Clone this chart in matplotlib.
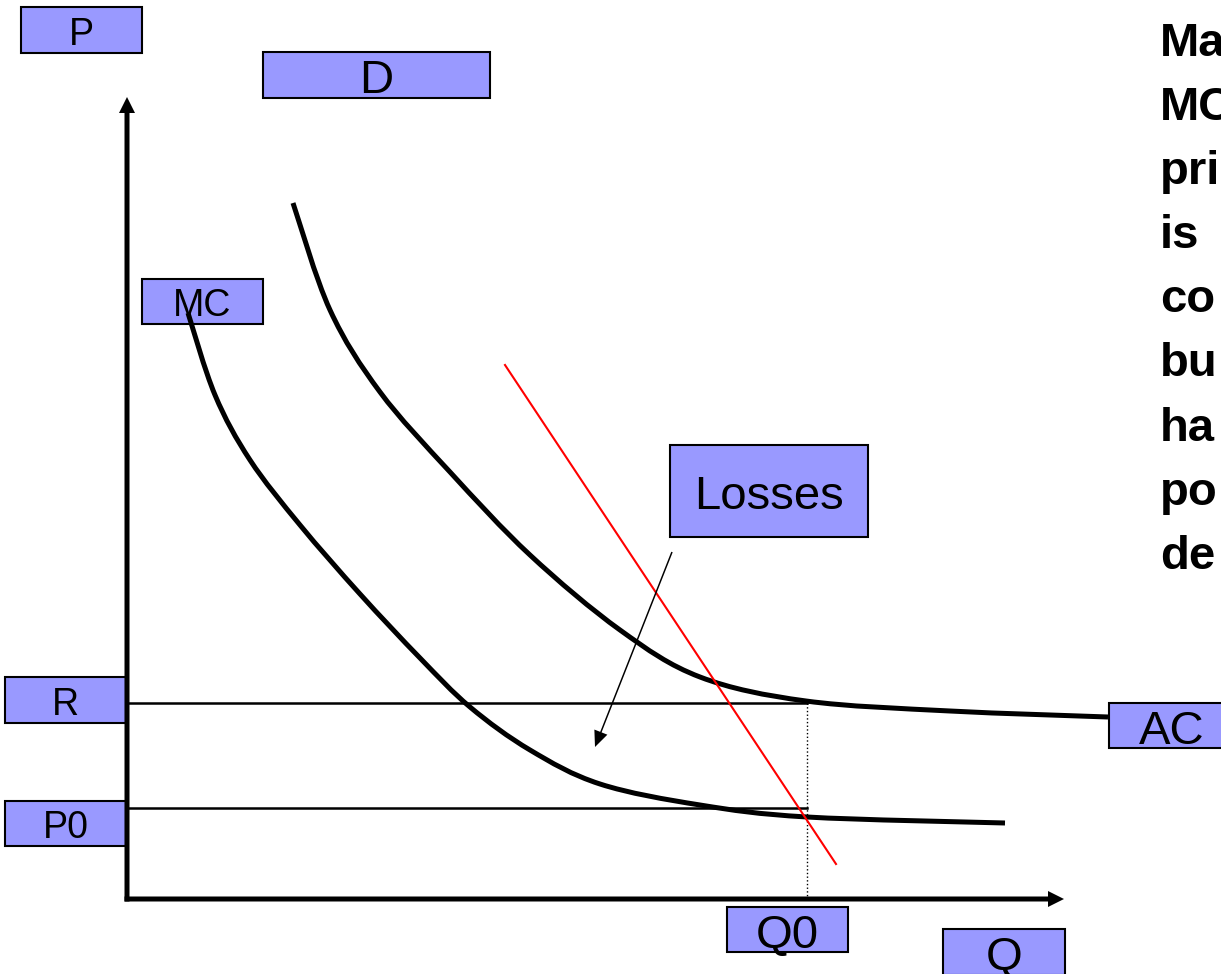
import matplotlib
matplotlib.use('Agg')
from matplotlib import pyplot as plt
from matplotlib.patches import Rectangle, PathPatch
from matplotlib.path import Path

plt.rcParams['font.family'] = ['Liberation Sans', 'DejaVu Sans']

# curves, in pixel coordinates (y grows downward)
ac_x = [293, 330, 380, 450, 530, 620, 700, 806, 950, 1108]
ac_y = [203, 310, 392, 472, 555, 630, 677, 701, 711, 717]
mc_x = [188, 215, 250, 300, 360, 420, 470, 530, 600, 700, 807, 1005]
mc_y = [313, 395, 460, 525, 594, 658, 707, 750, 784, 805, 817, 823]
red_x = [505, 836]
red_y = [365, 864]

# price levels and output
R = 703
P0 = 808
Q0 = 807
origin = (127, 899)

# labelled boxes: text, left, top, right, bottom, font size
boxes = [
    ('P', 21, 7, 142, 53, 27),
    ('D', 263, 52, 490, 98, 34),
    ('MC', 142, 279, 263, 324, 27),
    ('Losses', 670, 445, 868, 537, 34),
    ('R', 5, 677, 126, 723, 27),
    ('P0', 5, 801, 126, 846, 27),
    ('AC', 1109, 703, 1235, 748, 34),
    ('Q0', 727, 907, 848, 952, 34),
    ('Q', 943, 929, 1065, 975, 34),
]

# text on the right, cut off by the slide edge
side_text = ['Ma', 'MC', 'pri', 'is', 'co', 'bu', 'ha', 'po', 'de']


def smooth_path(xs, ys):
    # bezier segments through the traced points (catmull-rom style handles)
    pts = list(zip(xs, ys))
    verts = [pts[0]]
    codes = [Path.MOVETO]
    for i in range(len(pts) - 1):
        p0 = pts[i - 1] if i > 0 else pts[i]
        p1 = pts[i]
        p2 = pts[i + 1]
        p3 = pts[i + 2] if i + 2 < len(pts) else pts[i + 1]
        c1 = (p1[0] + (p2[0] - p0[0]) / 6, p1[1] + (p2[1] - p0[1]) / 6)
        c2 = (p2[0] - (p3[0] - p1[0]) / 6, p2[1] - (p3[1] - p1[1]) / 6)
        verts += [c1, c2, p2]
        codes += [Path.CURVE4] * 3
    return Path(verts, codes)


fig = plt.figure(figsize=(12.21, 9.74), dpi=100)
ax = fig.add_axes([0, 0, 1, 1])
ax.set_xlim(0, 1221)
ax.set_ylim(974, 0)
ax.axis('off')

# boxes go underneath the lines
for label, x0, y0, x1, y1, fs in boxes:
    ax.add_patch(Rectangle((x0, y0), x1 - x0, y1 - y0, facecolor='#9999ff',
                           edgecolor='black', lw=1.5, zorder=1))
    em = fs * 100 / 72
    ax.text((x0 + x1) / 2, (y0 + y1) / 2 + 0.358 * em + 1.5, label, fontsize=fs,
            ha='center', va='baseline', zorder=2)

# axes with arrow heads
ax.arrow(origin[0], origin[1] + 2.5, 0, 97 - origin[1] - 2.5, width=5, head_width=16,
         head_length=16, length_includes_head=True, fc='black', ec='none', zorder=4)
ax.arrow(origin[0] - 2.5, origin[1], 1064 - origin[0] + 2.5, 0, width=5, head_width=16,
         head_length=16, length_includes_head=True, fc='black', ec='none', zorder=4)

# price lines and output marker
ax.plot([origin[0], Q0], [R, R], color='black', lw=1.8, zorder=3)
ax.plot([origin[0], Q0], [P0, P0], color='black', lw=1.8, zorder=3)
ax.plot([Q0, Q0], [R, origin[1]], color='black', lw=1, ls=':', zorder=3)

# curves
for xs, ys in [(ac_x, ac_y), (mc_x, mc_y)]:
    ax.add_patch(PathPatch(smooth_path(xs, ys), fill=False, edgecolor='black',
                           lw=3.6, capstyle='butt', zorder=3))
ax.plot(red_x, red_y, color='red', lw=1.5, zorder=3)

# arrow from the Losses box
ax.arrow(672, 552, 595 - 672, 747 - 552, width=1.5, head_width=14, head_length=16,
         length_includes_head=True, fc='black', ec='none', zorder=4)

# right-hand text
for i, line in enumerate(side_text):
    ax.text(1160, 56 + i * 64.1, line, fontsize=34, fontweight='bold',
            ha='left', va='baseline', zorder=2)

plt.savefig('out.png', dpi=100)
